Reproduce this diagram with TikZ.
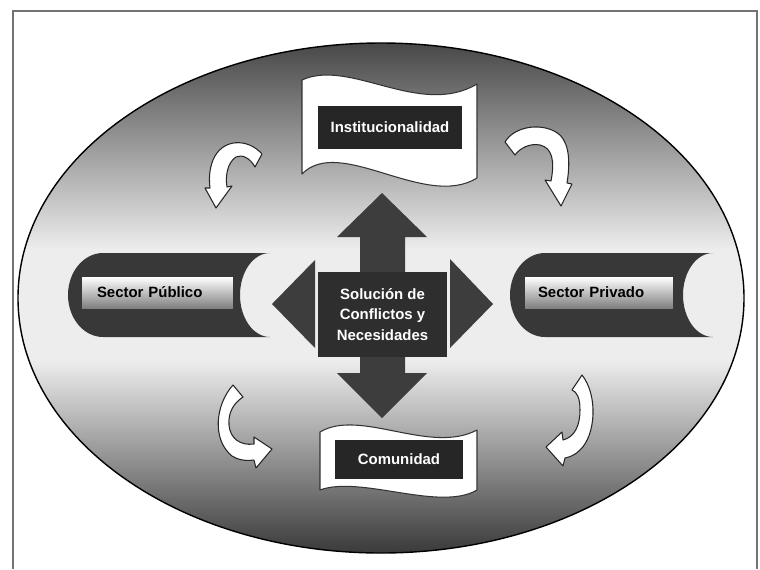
\documentclass[tikz,border=0pt]{standalone}
\usepackage{fontspec}
\setmainfont{Liberation Sans}
\begin{document}
\begin{tikzpicture}[x=0.02cm, y=-0.02cm,
    lbl/.style={font=\fontsize{8.5}{11.5}\selectfont\bfseries, inner sep=0pt},
    darkbox/.style={lbl, fill=black!85, text=white},
    bar/.style={lbl, top color=white, bottom color=black!50, align=left, minimum height=0.62cm},
    cylfill/.style={fill=black!78},
    crossfill/.style={fill=black!76},
    banner/.style={fill=white, draw=black!80, line width=0.6pt, line join=round},
    bendarrow/.style={fill=white, draw=black!85, line width=0.6pt, line join=round}]
  \useasboundingbox (0,0) rectangle (760,569);
  \draw[black!55, line width=1pt] (13,569) -- (13,11) -- (757,11) -- (757,569);

  \begin{scope}
    \clip (381,298) ellipse (363 and 255);
    \shade[top color=black!72, bottom color=black!7] (18,42) rectangle (745,250);
    \fill[black!7] (18,249) rectangle (745,361);
    \shade[top color=black!7, bottom color=black!78] (18,360) rectangle (745,555);
  \end{scope}
  \draw[line width=0.8pt] (381,298) ellipse (363 and 255);

  \draw[banner] (302,80) .. controls (350,58) and (420,118) .. (477,84) -- (477,178)
    .. controls (425,210) and (340,135) .. (302,174) -- cycle;
  \draw[banner] (320,432) .. controls (360,408) and (430,455) .. (477,430) -- (477,490)
    .. controls (440,512) and (360,475) .. (320,490) -- cycle;
  \node[darkbox, minimum width=2.88cm, minimum height=0.86cm] (inst) at (390,127.5) {Institucionalidad};
  \node[darkbox, minimum width=2.56cm, minimum height=0.78cm] (com) at (399,459) {Comunidad};

  \fill[cylfill] (103,253) -- (270,253) .. controls (253.4,253) and (240,271.8) .. (240,295)
    .. controls (240,318.2) and (253.4,337) .. (270,337) -- (103,337)
    .. controls (83.7,337) and (68,318.2) .. (68,295) .. controls (68,271.8) and (83.7,253) .. (103,253) -- cycle;
  \fill[cylfill] (545,253) -- (713,253) .. controls (696.4,253) and (683,271.8) .. (683,295)
    .. controls (683,318.2) and (696.4,337) .. (713,337) -- (545,337)
    .. controls (525.7,337) and (510,318.2) .. (510,295) .. controls (510,271.8) and (525.7,253) .. (545,253) -- cycle;
  \node[bar, text width=2.42cm, inner xsep=0.3cm] (spub) at (157.5,292.5) {Sector Público};
  \node[bar, text width=2.44cm, inner xsep=0.26cm] (spriv) at (599,292.5) {Sector Privado};

  \fill[crossfill] (360,272) -- (360,237) -- (337,237) -- (382,193) -- (427,237) -- (405,237) -- (405,272) -- cycle;
  \fill[crossfill] (360,356) -- (360,373) -- (337,373) -- (382,418) -- (427,373) -- (405,373) -- (405,356) -- cycle;
  \fill[crossfill] (315,260) -- (272,304) -- (315,348) -- cycle;
  \fill[crossfill] (450,259) -- (493,304) -- (450,348) -- cycle;
  \node[lbl, fill=black!82, text=white, align=center, minimum width=2.58cm, minimum height=1.7cm] (sol)
    at (382.5,314.5) {Solución de\\Conflictos y\\Necesidades};

  \draw[bendarrow] (262,154) .. controls (248,138) and (222,138) .. (213,160)
    .. controls (209,170) and (209,180) .. (210,188) -- (205,188) -- (216,208) -- (232,186) -- (227,187)
    .. controls (225,175) and (228,162) .. (236,157) .. controls (242,154) and (250,158) .. (255,167) -- cycle;
  \draw[bendarrow] (505,142) .. controls (515,125) and (545,122) .. (560,135)
    .. controls (570,145) and (570,165) .. (567,183) -- (572,184) -- (561,206) -- (545,180) -- (551,181)
    .. controls (555,160) and (552,148) .. (540,145) .. controls (530,143) and (520,148) .. (515,155) -- cycle;
  \draw[bendarrow] (233,385) .. controls (215,405) and (212,440) .. (232,456)
    .. controls (238,460) and (245,461) .. (254,460) -- (256,468) -- (272,449) -- (254,437) -- (254,444)
    .. controls (240,446) and (230,438) .. (229,425) .. controls (228,412) and (234,403) .. (243,397) -- cycle;
  \draw[bendarrow] (582,375) .. controls (598,395) and (596,435) .. (580,450)
    .. controls (575,455) and (570,457) .. (565,458) -- (563,466) -- (546,447) -- (562,432) -- (563,440)
    .. controls (575,437) and (580,425) .. (580,410) .. controls (580,398) and (577,392) .. (572,390) -- cycle;
\end{tikzpicture}
\end{document}
